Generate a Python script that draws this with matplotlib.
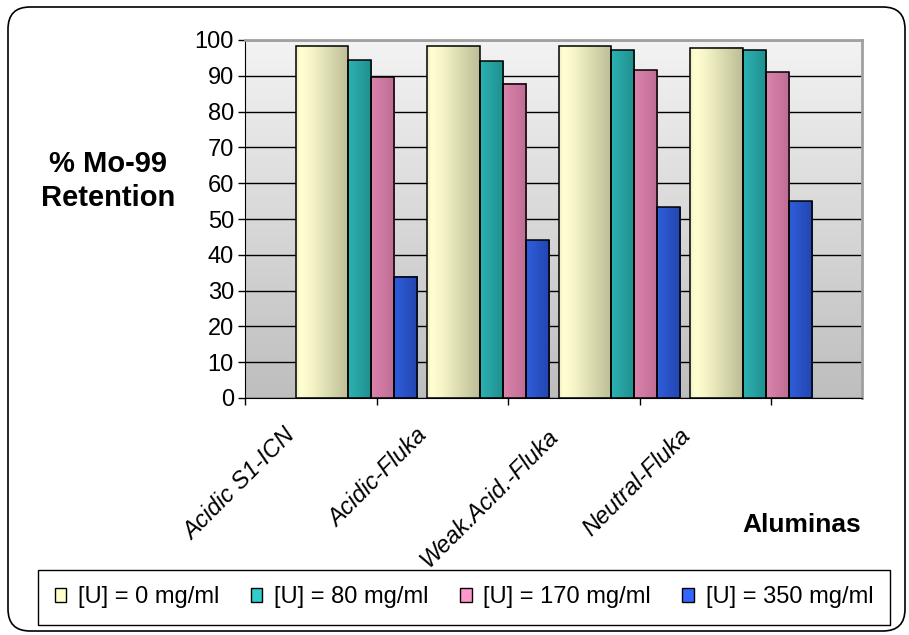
import matplotlib
matplotlib.use("Agg")
import matplotlib.pyplot as plt
import numpy as np
from matplotlib.colors import LinearSegmentedColormap
from matplotlib.patches import Patch, FancyBboxPatch
from matplotlib.transforms import IdentityTransform

plt.rcParams['font.family'] = ['Liberation Sans', 'DejaVu Sans']

# data
aluminas = ['Acidic S1-ICN', 'Acidic-Fluka', 'Weak.Acid.-Fluka', 'Neutral-Fluka']
series_labels = ['[U] = 0 mg/ml', '[U] = 80 mg/ml', '[U] = 170 mg/ml', '[U] = 350 mg/ml']
u_0 = [98.3, 98.3, 98.3, 97.9]
u_80 = [94.3, 94.0, 97.1, 97.1]
u_170 = [89.6, 87.8, 91.6, 91.0]
u_350 = [33.9, 44.0, 53.3, 55.0]
yticks = list(range(0, 101, 10))

series = [u_0, u_80, u_170, u_350]
legend_colors = ['#FFFFCC', '#33CCCC', '#FF99CC', '#3366FF']
gradients = [
    [(0.0, '#EEEEC2'), (0.08, '#FFFFD2'), (0.3, '#F4F4C6'), (1.0, '#BDBD96')],
    [(0.0, '#2DB2B2'), (1.0, '#1F8E8E')],
    [(0.0, '#DC84AC'), (1.0, '#BE6C94')],
    [(0.0, '#2F5EDC'), (1.0, '#2345AE')],
]
widths = [0.398, 0.175, 0.175, 0.175]
group_offset = 0.386
xmax = 4.692

W, H = 909, 635
fig = plt.figure(figsize=(W / 100, H / 100), dpi=100)
ax = fig.add_axes([245 / W, 1 - 398 / H, 617 / W, 358 / H])

# plot area background: light at top, grey at bottom
bg = np.linspace(0, 1, 256).reshape(-1, 1)
bg_cmap = LinearSegmentedColormap.from_list('bg', ['#F3F3F3', '#BEBEBE'])
ax.imshow(bg, cmap=bg_cmap, extent=(0, 1, 0, 1), transform=ax.transAxes,
          aspect='auto', zorder=0)
ax.set_facecolor('none')

idx = np.arange(len(aluminas))
left = idx + group_offset
for vals, w, stops in zip(series, widths, gradients):
    bars = ax.bar(left, vals, width=w, align='edge', color='none',
                  edgecolor='black', linewidth=1.1, zorder=3)
    cmap = LinearSegmentedColormap.from_list('g', stops)
    grad = np.linspace(0, 1, 128).reshape(1, -1)
    for b in bars:
        x0, y0, bw, bh = b.get_x(), b.get_y(), b.get_width(), b.get_height()
        ax.imshow(grad, cmap=cmap, extent=(x0, x0 + bw, y0, y0 + bh),
                  aspect='auto', zorder=2, interpolation='bilinear')
    left = left + w

ax.set_xlim(0, xmax)
ax.set_ylim(0, 100)

ax.set_yticks(yticks)
ax.yaxis.grid(True, color='black', linewidth=1.0)
ax.set_axisbelow(True)
ax.tick_params(axis='y', direction='out', length=5, width=1, pad=3,
               labelsize=17, colors='black')

ax.set_xticks(idx + 0.42)
ax.set_xticklabels(aluminas, rotation=45, ha='right', style='italic', fontsize=17)
ax.set_xticks(np.arange(0, 5), minor=True)
ax.tick_params(axis='x', which='major', length=0, pad=19)
ax.tick_params(axis='x', which='minor', direction='out', length=5, width=1)

for s in ['top', 'right']:
    ax.spines[s].set_color('#A0A0A0')
    ax.spines[s].set_linewidth(2)
ax.spines['left'].set_color('black')
ax.spines['bottom'].set_color('black')

fig.text(108 / W, 1 - 181 / H, '% Mo-99\nRetention', ha='center', va='center',
         fontsize=21, fontweight='bold', linespacing=1.25)
fig.text(861 / W, 1 - 525 / H, 'Aluminas', ha='right', va='center',
         fontsize=19, fontweight='bold')

handles = [Patch(facecolor=c, edgecolor='black', linewidth=1) for c in legend_colors]
fig.legend(handles, series_labels, ncol=4, loc='center', mode='expand',
           bbox_to_anchor=(38 / W, 1 - 627 / H, 852 / W, 59 / H),
           fontsize=17, frameon=True, fancybox=False, edgecolor='black',
           framealpha=1, borderpad=0.7, handlelength=0.5, handleheight=0.5,
           handletextpad=0.5, borderaxespad=0)
fig.legends[0].get_frame().set_linewidth(1)

border = FancyBboxPatch((8, 4), 897, 624, boxstyle='round,pad=0,rounding_size=22',
                        transform=IdentityTransform(), facecolor='none',
                        edgecolor='black', linewidth=1.2)
fig.add_artist(border)

fig.savefig('out.png', dpi=100)
